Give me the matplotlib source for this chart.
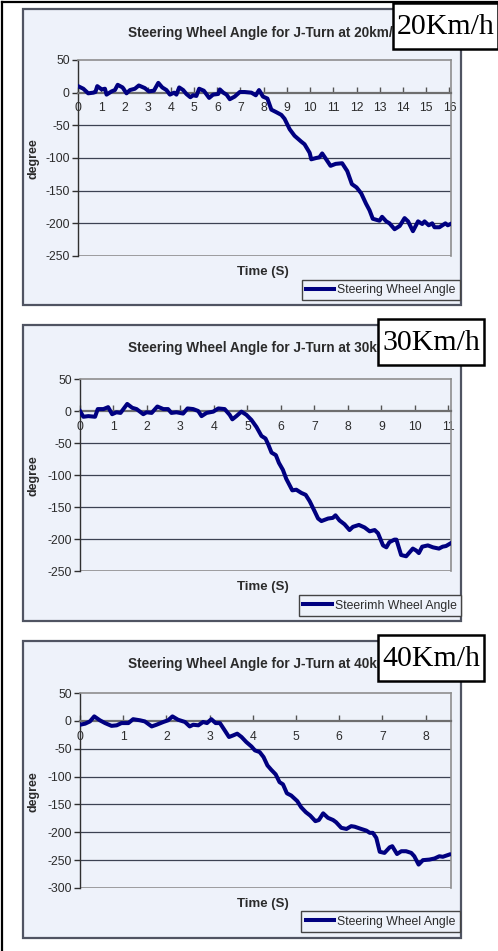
import matplotlib
matplotlib.use('Agg')
import matplotlib.pyplot as plt
from matplotlib.patches import Rectangle
from matplotlib.lines import Line2D

plt.rcParams['axes.unicode_minus'] = False

# ---------------- data ----------------
t20 = [0.0, 0.23, 0.44, 0.66, 0.75, 0.83, 1.02, 1.16, 1.23, 1.45, 1.59, 1.71, 1.92, 2.09, 2.24,
       2.45, 2.62, 2.88, 3.05, 3.27, 3.46, 3.63, 3.81, 3.96, 4.14, 4.24, 4.36, 4.53, 4.67, 4.84,
       4.96, 5.10, 5.22, 5.42, 5.65, 5.82, 6.04, 6.11, 6.26, 6.40, 6.54, 6.75, 6.97, 7.18, 7.47,
       7.66, 7.80, 7.97, 8.16, 8.33, 8.55, 8.76, 8.90, 9.12, 9.33, 9.62, 9.76, 9.98, 10.05, 10.26,
       10.40, 10.52, 10.73, 10.88, 11.10, 11.38, 11.60, 11.80, 12.00, 12.20, 12.41, 12.56, 12.70,
       12.99, 13.10, 13.28, 13.42, 13.64, 13.86, 14.07, 14.22, 14.43, 14.65, 14.83, 14.93, 15.11,
       15.26, 15.36, 15.57, 15.83, 15.93, 16.05]
a20 = [10, 6, -1, 0, 1, 10, 5, 6, -3, 2, 4, 12, 8, -1, 4,
       6, 11, 7, 2, 3, 15, 8, 4, -3, 0, -3, 8, 4, -2, -7,
       -4, -5, 6, 3, -8, -3, -2, 5, 0, -3, -10, -6, 1, 1, 0,
       -4, 4, -6, -9, -26, -30, -34, -40, -56, -66, -75, -79, -92, -102, -100,
       -99, -93, -104, -112, -109, -108, -120, -140, -145, -154, -170, -180, -193,
       -196, -190, -197, -200, -209, -204, -192, -197, -212, -197, -201, -197, -203,
       -200, -206, -206, -200, -203, -201]

t30 = [0.0, 0.10, 0.25, 0.45, 0.53, 0.70, 0.84, 0.96, 1.09, 1.21, 1.41, 1.56, 1.69, 1.89, 1.99,
       2.14, 2.31, 2.49, 2.63, 2.73, 2.88, 3.08, 3.21, 3.38, 3.53, 3.63, 3.78, 3.98, 4.13, 4.32,
       4.47, 4.55, 4.67, 4.82, 4.97, 5.12, 5.27, 5.42, 5.54, 5.62, 5.72, 5.85, 5.94, 6.06, 6.16,
       6.26, 6.34, 6.46, 6.61, 6.74, 6.86, 7.01, 7.11, 7.21, 7.41, 7.55, 7.63, 7.75, 7.90, 8.05,
       8.15, 8.33, 8.50, 8.65, 8.80, 8.90, 9.05, 9.15, 9.24, 9.39, 9.45, 9.59, 9.74, 9.94, 10.04,
       10.12, 10.22, 10.39, 10.54, 10.72, 10.83, 10.93, 11.06]
a30 = [0, -9, -8, -9, 3, 3, 6, -5, -2, -3, 11, 5, 3, -5, -2,
       -3, 7, 3, 3, -3, -2, -4, 4, 3, 0, -8, -3, -1, 4, 3,
       -6, -13, -8, -1, -6, -14, -25, -39, -43, -52, -65, -69, -81, -92, -106,
       -116, -124, -123, -128, -131, -141, -157, -168, -172, -168, -167, -163, -171, -177, -186,
       -181, -178, -182, -188, -186, -191, -210, -213, -205, -201, -201, -225, -227, -215, -218,
       -222, -212, -210, -213, -215, -212, -211, -207]

t40 = [0.0, 0.12, 0.23, 0.33, 0.46, 0.58, 0.73, 0.85, 0.96, 1.12, 1.23, 1.39, 1.50, 1.66, 1.77,
       1.93, 2.04, 2.14, 2.27, 2.43, 2.54, 2.62, 2.74, 2.85, 2.94, 3.04, 3.14, 3.24, 3.35, 3.45,
       3.55, 3.64, 3.74, 3.85, 3.97, 4.05, 4.16, 4.25, 4.34, 4.43, 4.53, 4.62, 4.70, 4.79, 4.89,
       5.03, 5.12, 5.23, 5.33, 5.45, 5.53, 5.63, 5.74, 5.86, 5.93, 6.05, 6.17, 6.28, 6.36, 6.51,
       6.63, 6.71, 6.78, 6.86, 6.94, 7.05, 7.17, 7.23, 7.34, 7.44, 7.55, 7.67, 7.74, 7.84, 7.94,
       8.09, 8.21, 8.32, 8.40, 8.55]
a40 = [-7, -5, -1, 8, 1, -4, -9, -8, -4, -4, 3, 1, -1, -10, -7,
       -2, 1, 8, 2, -2, -10, -7, -8, -2, -4, 3, -4, -4, -17, -29,
       -26, -23, -29, -38, -46, -53, -56, -65, -80, -88, -96, -110, -114, -130, -134,
       -144, -155, -164, -170, -180, -178, -166, -174, -178, -182, -192, -194, -189, -190, -194,
       -197, -201, -201, -210, -235, -237, -227, -225, -239, -234, -234, -237, -243, -258, -250,
       -249, -247, -243, -244, -240]

x_ticks20 = list(range(0, 17))
x_ticks30 = list(range(0, 12))
x_ticks40 = list(range(0, 9))
y_ticks_a = [-250, -200, -150, -100, -50, 0, 50]
y_ticks_b = [-300, -250, -200, -150, -100, -50, 0, 50]
titles = ['Steering Wheel Angle for J-Turn at 20km/h',
          'Steering Wheel Angle for J-Turn at 30km/h',
          'Steering Wheel Angle for J-Turn at 40km/h']
speeds = ['20Km/h', '30Km/h', '40Km/h']
legend_labels = ['Steering Wheel Angle', 'Steerimh Wheel Angle', 'Steering Wheel Angle']
x_label = 'Time (S)'
y_label = 'degree'

# ---------------- style / layout ----------------
W, H = 498, 951
BG = '#EEF2FA'
FRAME = '#505462'
GRID = '#3c4252'
BORDER = '#8e8e8e'
TXT = '#2b2b2b'
LINE = '#000080'
SANS = ['Liberation Sans', 'DejaVu Sans']
SERIF = ['Liberation Serif', 'DejaVu Serif']

fig = plt.figure(figsize=(W / 100, H / 100), dpi=100)
fig.patch.set_facecolor('white')


def fxy(x, y):
    return x / W, 1 - y / H


def rect(x0, y0, x1, y1):
    return [x0 / W, 1 - y1 / H, (x1 - x0) / W, (y1 - y0) / H]


panels = [
    dict(t=t20, a=a20, xt=x_ticks20, yt=y_ticks_a, xlim=(0, 16.07),
         frame=(23, 9, 461, 305), plot=(78, 60, 451, 256), title_y=33,
         box=(393, 3, 497.5, 49), xlab_y=272, leg=(301, 278, 461, 302)),
    dict(t=t30, a=a30, xt=x_ticks30, yt=y_ticks_a, xlim=(0, 11.08),
         frame=(23, 325, 461, 621), plot=(80, 379, 451, 571), title_y=348,
         box=(378, 319, 484, 365), xlab_y=587, leg=(299, 594, 461, 617)),
    dict(t=t40, a=a40, xt=x_ticks40, yt=y_ticks_b, xlim=(0, 8.59),
         frame=(23, 641, 461, 938), plot=(80, 693, 451, 888), title_y=664,
         box=(378, 635, 484, 681), xlab_y=904, leg=(300, 910, 461, 933)),
]

for i, p in enumerate(panels):
    x0, y0, x1, y1 = p['frame']
    fig.add_artist(Rectangle(fxy(x0, y1), (x1 - x0) / W, (y1 - y0) / H,
                             transform=fig.transFigure, facecolor=BG,
                             edgecolor=FRAME, lw=1.6, zorder=0))
    ax = fig.add_axes(rect(*p['plot']))
    ax.set_facecolor(BG)
    ax.plot(p['t'], p['a'], color=LINE, lw=2.9, label=legend_labels[i], zorder=5,
            solid_joinstyle='round')
    ax.set_xlim(*p['xlim'])
    ax.set_ylim(p['yt'][0], p['yt'][-1])
    ax.set_xticks(p['xt'])
    ax.set_yticks(p['yt'])
    # interior gridlines
    inner = [v for v in p['yt'] if v not in (0, p['yt'][0], p['yt'][-1])]
    ax.hlines(inner, p['xlim'][0], p['xlim'][1], colors=GRID, lw=0.9, zorder=1)
    ax.axhline(p['yt'][0], color=BORDER, lw=1.2, zorder=1)
    ax.spines['bottom'].set_position(('data', 0))
    ax.spines['bottom'].set_color('#6e6e6e')
    ax.spines['bottom'].set_linewidth(1.6)
    ax.spines['left'].set_color('#303030')
    ax.spines['left'].set_linewidth(1.0)
    for s in ('top', 'right'):
        ax.spines[s].set_color(BORDER)
        ax.spines[s].set_linewidth(1.2)
    ax.tick_params(axis='x', direction='in', length=4, width=1, color='#555555',
                   pad=7, labelsize=8.8, labelcolor=TXT)
    ax.tick_params(axis='y', direction='out', length=4, width=1, color='#303030',
                   pad=2, labelsize=8.8, labelcolor=TXT)
    for lab in ax.get_xticklabels() + ax.get_yticklabels():
        lab.set_fontfamily(SANS)

    # texts
    px0, py0, px1, py1 = p['plot']
    fig.text(*fxy((px0 + px1) / 2 - 0.5, p['title_y']), titles[i], ha='center', va='center',
             fontsize=9.8, fontweight='bold', color=TXT, family=SANS)
    fig.text(*fxy(263, p['xlab_y']), x_label, ha='center', va='center',
             fontsize=9.5, fontweight='bold', color=TXT, family=SANS)
    fig.text(*fxy(33, (py0 + py1) / 2 + 1), y_label, ha='center', va='center', rotation=90,
             fontsize=9, fontweight='bold', color=TXT, family=SANS)

    # legend
    lx0, ly0, lx1, ly1 = p['leg']
    leg = ax.legend(loc='center', bbox_to_anchor=fxy((lx0 + lx1) / 2, (ly0 + ly1) / 2),
                    bbox_transform=fig.transFigure, handlelength=2.3,
                    handletextpad=0.25, borderpad=0.35, borderaxespad=0,
                    fancybox=False, framealpha=1, facecolor=BG, edgecolor='#444444',
                    prop={'family': SANS, 'size': 8.8})
    leg.get_frame().set_linewidth(1.0)
    for tx in leg.get_texts():
        tx.set_color(TXT)

    # speed box (covers the end of the title, as in the original)
    bx0, by0, bx1, by1 = p['box']
    fig.add_artist(Rectangle(fxy(bx0, by1), (bx1 - bx0) / W, (by1 - by0) / H,
                             transform=fig.transFigure, facecolor='white',
                             edgecolor='black', lw=1.8, zorder=20))
    fig.text(*fxy((bx0 + bx1) / 2, (by0 + by1) / 2 + 1), speeds[i], ha='center', va='center',
             fontsize=21.5, color='black', family=SERIF, zorder=21)

# outer page border (left and top)
fig.add_artist(Line2D([1.5 / W, 1.5 / W], [0, 1 - 1.5 / H], transform=fig.transFigure,
                      color='black', lw=1.6, zorder=30))
fig.add_artist(Line2D([1.5 / W, 1], [1 - 1.5 / H, 1 - 1.5 / H], transform=fig.transFigure,
                      color='black', lw=1.6, zorder=30))

fig.savefig('out.png', dpi=100)
